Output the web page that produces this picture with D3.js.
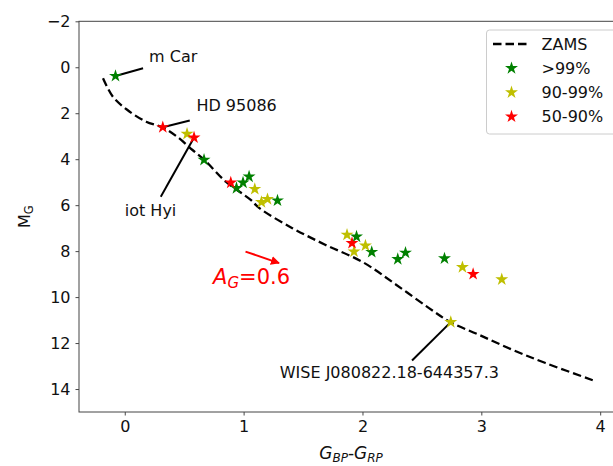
<!DOCTYPE html>
<html lang="en">

<head>
    <meta charset="UTF-8" />
    <title>CMD - ZAMS</title>
    <script src="https://d3js.org/d3.v7.min.js"></script>
    <style>
        body {
            margin: 0;
            background: #ffffff;
        }

        svg text {
            font-family: "DejaVu Sans", sans-serif;
        }
    </style>
</head>

<body>
    <svg id="chart" width="613" height="466"></svg>

    <script>
        // ZAMS curve (colour, absolute G magnitude)
        const zamsColor = [-0.183, -0.10, 0.02, 0.18, 0.32, 0.44, 0.57, 0.67, 0.85, 1.06, 1.13, 1.41, 1.69, 2.0, 2.28, 2.56, 2.74, 2.98, 3.26, 3.54, 3.95];
        const zamsMag = [0.48, 1.28, 1.85, 2.37, 2.62, 3.02, 3.60, 4.03, 4.98, 5.77, 6.12, 7.0, 7.73, 8.47, 9.45, 10.48, 11.09, 11.64, 12.29, 12.87, 13.64];

        // member stars by probability class
        const categories = [">99%", "90-99%", "50-90%"];
        const greenColor = [-0.078, 0.667, 0.940, 0.995, 1.046, 1.285, 1.950, 2.078, 2.297, 2.362, 2.690];
        const greenMag = [0.38, 4.03, 5.26, 5.02, 4.76, 5.80, 7.37, 8.04, 8.35, 8.07, 8.32];
        const yellowColor = [0.524, 1.094, 1.150, 1.201, 1.870, 1.929, 2.025, 2.841, 3.172, 2.743];
        const yellowMag = [2.90, 5.30, 5.87, 5.74, 7.29, 8.02, 7.76, 8.70, 9.23, 11.09];
        const redColor = [0.320, 0.583, 0.892, 1.912, 2.931];
        const redMag = [2.61, 3.06, 5.02, 7.65, 9.00];

        // named stars
        const names = ["m Car", "HD 95086", "iot Hyi", "WISE J080822.18-644357.3"];
        const nameColor = [-0.078, 0.320, 0.583, 2.743];
        const nameMag = [0.38, 2.61, 3.06, 11.09];

        // extinction vector
        const reddenColor = [1.016, 1.298];
        const reddenMag = [8.02, 8.52];
        const reddenLabel = "0.6";

        const xTicks = [0, 1, 2, 3, 4];
        const yTicks = [-2, 0, 2, 4, 6, 8, 10, 12, 14];

        const svg = d3.select("#chart");
        const plot = { left: 79, right: 623, top: 21.3, bottom: 412 };

        const x = d3.scaleLinear().domain([-0.385, 4.192]).range([plot.left, plot.right]);
        const y = d3.scaleLinear().domain([-2, 15]).range([plot.top, plot.bottom]);

        // axes
        const xAxis = svg.append("g")
            .attr("transform", `translate(0,${plot.bottom})`)
            .call(d3.axisBottom(x).tickValues(xTicks).tickSize(3.5).tickPadding(5).tickFormat(d3.format("d")));
        const yAxis = svg.append("g")
            .attr("transform", `translate(${plot.left},0)`)
            .call(d3.axisLeft(y).tickValues(yTicks).tickSize(3.5).tickPadding(5)
                .tickFormat(d => d < 0 ? "\u2212" + Math.abs(d) : d));

        [xAxis, yAxis].forEach(a => {
            a.selectAll("text").attr("font-size", 16).attr("fill", "#111").style("font-family", "DejaVu Sans");
            a.selectAll("line").attr("stroke", "#333").attr("stroke-width", 0.9);
            a.select(".domain").remove();
        });

        // frame
        svg.append("rect")
            .attr("x", plot.left).attr("y", plot.top)
            .attr("width", plot.right - plot.left).attr("height", plot.bottom - plot.top)
            .attr("fill", "none").attr("stroke", "#444").attr("stroke-width", 1);

        // axis labels
        svg.append("text")
            .attr("transform", `translate(30,${(plot.top + plot.bottom) / 2}) rotate(-90)`)
            .attr("text-anchor", "middle")
            .attr("font-size", 16)
            .attr("fill", "#111")
            .html('M<tspan font-size="11.5" dy="3">G</tspan>');

        svg.append("text")
            .attr("x", (plot.left + plot.right) / 2)
            .attr("y", 459)
            .attr("text-anchor", "middle")
            .attr("font-size", 17)
            .attr("font-style", "italic")
            .attr("fill", "#111")
            .html('G<tspan font-size="12" dy="3">BP</tspan><tspan dy="-3" font-style="normal">-</tspan>G<tspan font-size="12" dy="3">RP</tspan>');

        // ZAMS
        const zams = zamsColor.map((c, i) => [c, zamsMag[i]]);
        svg.append("path")
            .datum(zams)
            .attr("fill", "none")
            .attr("stroke", "#000")
            .attr("stroke-width", 2.3)
            .attr("stroke-dasharray", "8.5,4")
            .attr("d", d3.line().x(d => x(d[0])).y(d => y(d[1])).curve(d3.curveCatmullRom));

        // annotation lines (drawn under the stars)
        const noteLayout = [
            { tx: 0.205, ty: -0.23, lx: 0.154, ly: 0.04 },
            { tx: 0.603, ty: 1.92, lx: 0.547, ly: 2.32 },
            { tx: 0.0, ty: 6.45, lx: 0.303, ly: 5.63 },
            { tx: 1.304, ty: 13.52, lx: 2.417, ly: 12.76 }
        ];
        names.forEach((n, i) => {
            const p = noteLayout[i];
            svg.append("line")
                .attr("x1", x(p.lx)).attr("y1", y(p.ly))
                .attr("x2", x(nameColor[i])).attr("y2", y(nameMag[i]))
                .attr("stroke", "#000").attr("stroke-width", 2);
            svg.append("text")
                .attr("x", x(p.tx)).attr("y", y(p.ty))
                .attr("font-size", 16)
                .attr("fill", "#111")
                .text(n);
        });

        // stars
        const star = d3.symbol().type(d3.symbolStar).size(52);
        const groups = [
            { xs: greenColor, ys: greenMag, fill: "#008000" },
            { xs: yellowColor, ys: yellowMag, fill: "#bfbf00" },
            { xs: redColor, ys: redMag, fill: "#ff0000" }
        ];
        groups.forEach(g => {
            svg.append("g").selectAll("path")
                .data(g.xs.map((c, i) => [c, g.ys[i]]))
                .join("path")
                .attr("d", star)
                .attr("transform", d => `translate(${x(d[0])},${y(d[1])})`)
                .attr("fill", g.fill);
        });

        // extinction arrow
        svg.append("defs").append("marker")
            .attr("id", "head")
            .attr("viewBox", "0 0 10 10")
            .attr("refX", 9).attr("refY", 5)
            .attr("markerWidth", 4.5).attr("markerHeight", 4.5)
            .attr("markerUnits", "strokeWidth")
            .attr("orient", "auto")
            .append("path")
            .attr("d", "M0,0L10,5L0,10z")
            .attr("fill", "#ff0000");

        svg.append("line")
            .attr("x1", x(reddenColor[0])).attr("y1", y(reddenMag[0]))
            .attr("x2", x(reddenColor[1])).attr("y2", y(reddenMag[1]))
            .attr("stroke", "#ff0000").attr("stroke-width", 2)
            .attr("marker-end", "url(#head)");

        svg.append("text")
            .attr("x", x(0.743)).attr("y", y(9.42))
            .attr("font-size", 21)
            .attr("fill", "#ff0000")
            .html(`<tspan font-style="italic">A</tspan><tspan font-style="italic" font-size="15" dy="4">G</tspan><tspan dy="-4">=${reddenLabel}</tspan>`);

        // legend
        const lg = svg.append("g");
        lg.append("rect")
            .attr("x", 486.5).attr("y", 30)
            .attr("width", 132).attr("height", 104)
            .attr("rx", 3)
            .attr("fill", "#fff").attr("fill-opacity", 0.8)
            .attr("stroke", "#ccc").attr("stroke-width", 1);

        const rowY = i => 44 + 24.2 * i;
        lg.append("line")
            .attr("x1", 493).attr("x2", 528)
            .attr("y1", rowY(0)).attr("y2", rowY(0))
            .attr("stroke", "#000").attr("stroke-width", 2.3)
            .attr("stroke-dasharray", "8.5,4");
        lg.append("text")
            .attr("x", 541.5).attr("y", rowY(0))
            .attr("dominant-baseline", "central")
            .attr("font-size", 16).attr("fill", "#111")
            .text("ZAMS");

        categories.forEach((c, i) => {
            lg.append("path")
                .attr("d", star)
                .attr("transform", `translate(511.5,${rowY(i + 1)})`)
                .attr("fill", groups[i].fill);
            lg.append("text")
                .attr("x", 541.5).attr("y", rowY(i + 1))
                .attr("dominant-baseline", "central")
                .attr("font-size", 16).attr("fill", "#111")
                .text(c);
        });
    </script>

</body>

</html>
